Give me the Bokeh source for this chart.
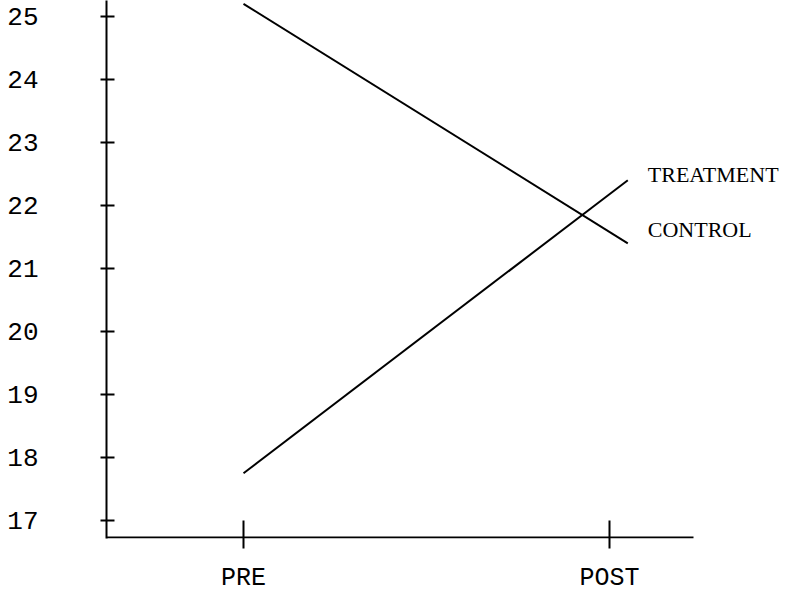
from bokeh.plotting import figure
from bokeh.models import FixedTicker, Range1d, Label
from bokeh.embed import file_html
from bokeh.resources import INLINE

# ---- data ----
phases = ["PRE", "POST"]
phase_x = [1, 2]
line_x = [1.0, 2.05]
control = [25.2, 21.4]
treatment = [17.75, 22.4]
y_ticks = [17, 18, 19, 20, 21, 22, 23, 24, 25]
series_names = ["TREATMENT", "CONTROL"]

MONO = "Liberation Mono"
SERIF = "Liberation Serif"

# ---- layout (pixels) ----
W, H = 787, 596
LEFT, BOTTOM = 106, 58
frame_h = H - BOTTOM
px_per_x = 366.0           # pixels per phase step
px_per_y = 63.0            # pixels per score unit
x_start = phase_x[0] - (243 - LEFT) / px_per_x
x_end = x_start + (W - LEFT) / px_per_x
axis_x_end = x_start + (693 - LEFT) / px_per_x
y_start = y_ticks[0] - 18 / px_per_y
y_end = y_start + frame_h / px_per_y
baseline_y = y_start + 1.0 / px_per_y

p = figure(width=W, height=H, output_backend="svg", toolbar_location=None,
           x_range=Range1d(x_start, x_end), y_range=Range1d(y_start, y_end),
           min_border_left=LEFT, min_border_right=0, min_border_top=0,
           min_border_bottom=BOTTOM)
p.outline_line_color = None
p.grid.visible = False
p.background_fill_color = "white"
p.border_fill_color = "white"

# x axis base line (ends short of the right edge)
p.line([x_start, axis_x_end], [baseline_y, baseline_y], line_color="black", line_width=2)

p.line(line_x, control, line_color="black", line_width=2)
p.line(line_x, treatment, line_color="black", line_width=2)

# series labels at right end of lines
p.add_layout(Label(x=line_x[-1], y=treatment[-1], text=series_names[0],
                   x_offset=20, y_offset=6, text_baseline="middle",
                   text_font=SERIF, text_font_size="22px", text_color="black"))
p.add_layout(Label(x=line_x[-1], y=control[-1], text=series_names[1],
                   x_offset=20, y_offset=14, text_baseline="middle",
                   text_font=SERIF, text_font_size="22px", text_color="black"))

ya = p.yaxis[0]
ya.ticker = FixedTicker(ticks=y_ticks)
ya.axis_line_width = 2
ya.axis_line_color = "black"
ya.major_tick_line_width = 2
ya.major_tick_line_color = "black"
ya.major_tick_in = 8
ya.major_tick_out = 6
ya.minor_tick_in = 0
ya.minor_tick_out = 0
ya.major_label_text_font = MONO
ya.major_label_text_font_size = "26px"
ya.major_label_text_color = "black"
ya.major_label_standoff = 62

xa = p.xaxis[0]
xa.ticker = FixedTicker(ticks=phase_x)
xa.major_label_overrides = {x: lab for x, lab in zip(phase_x, phases)}
xa.axis_line_color = None
xa.major_tick_line_width = 2
xa.major_tick_line_color = "black"
xa.major_tick_in = 18
xa.major_tick_out = 10
xa.minor_tick_in = 0
xa.minor_tick_out = 0
xa.major_label_text_font = MONO
xa.major_label_text_font_size = "25px"
xa.major_label_text_color = "black"
xa.major_label_standoff = 15

open("out.html", "w").write(file_html(p, INLINE))
